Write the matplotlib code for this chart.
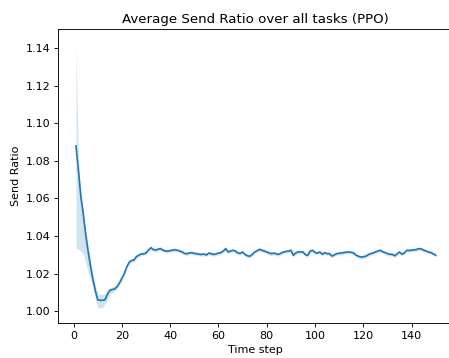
import matplotlib
matplotlib.use("Agg")
import matplotlib.pyplot as plt
import numpy as np

time_steps = list(range(1, 151))

send_ratio_mean = [
    1.088, 1.075, 1.061, 1.052, 1.041, 1.032, 1.024, 1.017, 1.011, 1.006,
    1.0058, 1.0058, 1.006, 1.009, 1.011, 1.0115, 1.0118, 1.013, 1.015, 1.0175,
    1.020, 1.0235, 1.026, 1.027, 1.0272, 1.029, 1.0298, 1.0305, 1.0305, 1.031,
    1.0325, 1.0338, 1.0328, 1.0325, 1.033, 1.0333, 1.0325, 1.032, 1.032, 1.0322,
    1.0325, 1.0327, 1.0324, 1.032, 1.0315, 1.0307, 1.0306, 1.031, 1.0311, 1.0307,
    1.0306, 1.0303, 1.0302, 1.0304, 1.0299, 1.0309, 1.0306, 1.0302, 1.0305, 1.0309,
    1.0312, 1.032, 1.0333, 1.0315, 1.032, 1.0324, 1.032, 1.031, 1.0308, 1.0315,
    1.0302, 1.0295, 1.0292, 1.0302, 1.0315, 1.0322, 1.0329, 1.0324, 1.032, 1.0315,
    1.031, 1.0306, 1.0309, 1.0305, 1.0302, 1.031, 1.0315, 1.0318, 1.032, 1.0324,
    1.0297, 1.031, 1.0315, 1.0316, 1.0315, 1.0301, 1.0297, 1.032, 1.0324, 1.0312,
    1.0309, 1.0315, 1.0303, 1.0311, 1.0306, 1.0306, 1.0293, 1.030, 1.0306, 1.0308,
    1.031, 1.0312, 1.0314, 1.0315, 1.0313, 1.031, 1.0298, 1.0292, 1.0288, 1.029,
    1.0292, 1.030, 1.0306, 1.031, 1.0315, 1.032, 1.0324, 1.0316, 1.0312, 1.0306,
    1.0303, 1.0302, 1.0295, 1.0305, 1.0315, 1.0303, 1.031, 1.0324, 1.0323, 1.0325,
    1.0326, 1.0328, 1.0333, 1.0331, 1.0325, 1.032, 1.0315, 1.0312, 1.0305, 1.0298,
]

band_lower = [
    1.033, 1.033, 1.032, 1.030, 1.026, 1.021, 1.017, 1.012, 1.007, 1.002,
    1.0016, 1.002, 1.004, 1.006, 1.009, 1.010, 1.0105, 1.012, 1.014, 1.016,
    1.019, 1.0225, 1.025, 1.026, 1.0262, 1.028, 1.0289, 1.0296, 1.0296, 1.0301,
    1.0316, 1.0328, 1.0319, 1.0316, 1.0321, 1.0324, 1.0316, 1.0311, 1.0311, 1.0313,
    1.0316, 1.0318, 1.0315, 1.0311, 1.0306, 1.0298, 1.0297, 1.0301, 1.0302, 1.0298,
    1.0297, 1.0294, 1.0293, 1.0295, 1.029, 1.03, 1.0297, 1.0293, 1.0296, 1.03,
    1.0303, 1.0311, 1.0323, 1.0306, 1.0311, 1.0315, 1.0311, 1.0301, 1.0299, 1.0306,
    1.0293, 1.0286, 1.0283, 1.0293, 1.0306, 1.0313, 1.032, 1.0315, 1.0311, 1.0306,
    1.0301, 1.0297, 1.03, 1.0296, 1.0293, 1.0301, 1.0306, 1.0309, 1.0311, 1.0315,
    1.0288, 1.0301, 1.0306, 1.0307, 1.0306, 1.0292, 1.0288, 1.0311, 1.0315, 1.0303,
    1.03, 1.0306, 1.0294, 1.0302, 1.0297, 1.0297, 1.0284, 1.0291, 1.0297, 1.0299,
    1.0301, 1.0303, 1.0305, 1.0306, 1.0304, 1.0301, 1.0289, 1.0283, 1.0279, 1.0281,
    1.0283, 1.0291, 1.0297, 1.0301, 1.0306, 1.0311, 1.0315, 1.0307, 1.0303, 1.0297,
    1.0294, 1.0293, 1.0286, 1.0296, 1.0306, 1.0294, 1.0301, 1.0315, 1.0314, 1.0316,
    1.0317, 1.0319, 1.0324, 1.0322, 1.0316, 1.0311, 1.0306, 1.0303, 1.0296, 1.0289,
]

band_upper = [
    1.142, 1.080, 1.064, 1.054, 1.044, 1.035, 1.027, 1.020, 1.014, 1.009,
    1.009, 1.009, 1.009, 1.011, 1.0125, 1.013, 1.0135, 1.0145, 1.0165, 1.019,
    1.021, 1.0245, 1.027, 1.028, 1.0282, 1.03, 1.0307, 1.0314, 1.0314, 1.0319,
    1.0334, 1.0348, 1.0337, 1.0334, 1.0339, 1.0342, 1.0334, 1.0329, 1.0329, 1.0331,
    1.0334, 1.0336, 1.0333, 1.0329, 1.0324, 1.0316, 1.0315, 1.0319, 1.032, 1.0316,
    1.0315, 1.0312, 1.0311, 1.0313, 1.0308, 1.0318, 1.0315, 1.0311, 1.0314, 1.0318,
    1.0321, 1.0329, 1.0343, 1.0324, 1.0329, 1.0333, 1.0329, 1.0319, 1.0317, 1.0324,
    1.0311, 1.0304, 1.0301, 1.0311, 1.0324, 1.0331, 1.0338, 1.0333, 1.0329, 1.0324,
    1.0319, 1.0315, 1.0318, 1.0314, 1.0311, 1.0319, 1.0324, 1.0327, 1.0329, 1.0333,
    1.0306, 1.0319, 1.0324, 1.0325, 1.0324, 1.031, 1.0306, 1.0329, 1.0333, 1.0321,
    1.0318, 1.0324, 1.0312, 1.032, 1.0315, 1.0315, 1.0302, 1.0309, 1.0315, 1.0317,
    1.0319, 1.0321, 1.0323, 1.0324, 1.0322, 1.0319, 1.0307, 1.0301, 1.0297, 1.0299,
    1.0301, 1.0309, 1.0315, 1.0319, 1.0324, 1.0329, 1.0333, 1.0325, 1.0321, 1.0315,
    1.0312, 1.0311, 1.0304, 1.0314, 1.0324, 1.0312, 1.0319, 1.0333, 1.0332, 1.0334,
    1.0335, 1.0337, 1.0342, 1.034, 1.0334, 1.0329, 1.0324, 1.0321, 1.0314, 1.0307,
]

title = "Average Send Ratio over all tasks (PPO)"
xlabel = "Time step"
ylabel = "Send Ratio"

DPI = 80
fig = plt.figure(figsize=(449 / DPI, 358 / DPI), dpi=DPI)
ax = fig.add_axes([0.1292, 0.0978, 0.8813, 0.8200])
color = "#1f77b4"
ax.fill_between(time_steps, band_lower, band_upper, color=color, alpha=0.2, linewidth=0)
ax.plot(time_steps, send_ratio_mean, color=color, linewidth=1.5)
ax.set_xlim(-6.45, 157.45)
ax.set_ylim(0.9937, 1.1500)
ax.set_xticks([0, 20, 40, 60, 80, 100, 120, 140])
ax.set_yticks([1.00, 1.02, 1.04, 1.06, 1.08, 1.10, 1.12, 1.14])
ax.set_title(title, fontsize=12)
ax.set_xlabel(xlabel)
ax.set_ylabel(ylabel)
fig.savefig("out.png", dpi=DPI)
